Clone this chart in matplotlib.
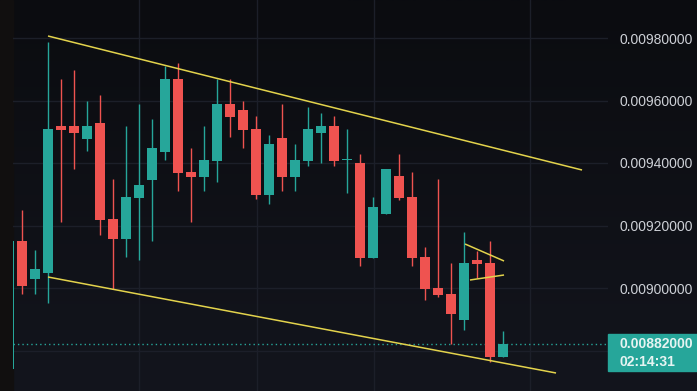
import numpy as np
import matplotlib
matplotlib.use("Agg")
import matplotlib.pyplot as plt
from matplotlib.patches import Rectangle
import matplotlib.transforms as mtransforms

# candle data (price units 1e-6)
opens = [8741, 9150, 9029, 9048, 9518, 9518, 9477, 9528, 9221, 9157,
         9288, 9346, 9435, 9669, 9371, 9355, 9406, 9589, 9570, 9509,
         9298, 9480, 9355, 9406, 9496, 9518, 9410, 9400, 9096, 9237,
         9358, 9291, 9099, 9000, 8981, 8898, 9090, 9080, 8779]
highs = [9150, 9250, 9122, 9787, 9669, 9698, 9598, 9618, 9349, 9518,
         9589, 9541, 9710, 9720, 9448, 9518, 9669, 9669, 9598, 9550,
         9490, 9589, 9461, 9579, 9560, 9550, 9509, 9429, 9291, 9381,
         9429, 9371, 9131, 9349, 9080, 9179, 9118, 9150, 8862]
lows = [8741, 8981, 8981, 8952, 9211, 9381, 9438, 9170, 8997, 9099,
        9090, 9150, 9410, 9310, 9211, 9310, 9339, 9483, 9448, 9285,
        9269, 9310, 9310, 9390, 9400, 9390, 9304, 9070, 9096, 9237,
        9282, 9070, 8962, 8971, 8821, 8866, 9032, 8763, 8779]
closes = [9150, 9006, 9061, 9509, 9506, 9496, 9518, 9218, 9157, 9291,
          9330, 9448, 9669, 9368, 9355, 9410, 9589, 9547, 9506, 9298,
          9461, 9355, 9410, 9509, 9518, 9406, 9410, 9096, 9259, 9381,
          9288, 9096, 8997, 8978, 8917, 9080, 9077, 8779, 8820]

# drawn trendlines: (index, price) pairs
trendlines = [
    ((3.0, 0.0098064), (44.08, 0.0093776)),
    ((3.0, 0.0090352), (42.08, 0.0087280)),
    ((35.08, 0.0091408), (38.08, 0.0090864)),
    ((35.46, 0.0090256), (38.08, 0.0090416)),
]

price_ticks = [0.0090, 0.0092, 0.0094, 0.0096, 0.0098]
grid_levels = [0.0088, 0.0090, 0.0092, 0.0094, 0.0096, 0.0098]
time_grid = [10, 19.08, 28.08, 40.08]
countdown = "02:14:31"

UP = "#26a69a"
DOWN = "#ef5350"
LINE = "#e3d34c"
PX = 3.2e-6  # price per pixel

o = np.array(opens) * 1e-6
h = np.array(highs) * 1e-6
l = np.array(lows) * 1e-6
c = np.array(closes) * 1e-6
x = np.arange(len(o))

W, H = 697, 391
fig = plt.figure(figsize=(W / 100, H / 100), dpi=100)

# background gradient
bg = fig.add_axes([0, 0, 1, 1], zorder=-10)
grad = np.linspace(0, 1, 256).reshape(-1, 1)
top = np.array([11, 12, 16]) / 255
bot = np.array([19, 21, 29]) / 255
img = top[None, None, :] * (1 - grad[:, :, None]) + bot[None, None, :] * grad[:, :, None]
bg.imshow(img, aspect="auto", extent=[0, 1, 0, 1])
bg.set_axis_off()
fig.patches.append(Rectangle((0, 0), 13 / W, 1, transform=fig.transFigure,
                             color="#110f0f", zorder=-5))

ax = fig.add_axes([13 / W, 0, 595 / W, 1])
ax.set_facecolor("none")
ax.set_xlim((13 - 9) / 13, (608 - 9) / 13)
ax.set_ylim(0.0098 - (391 - 38) * PX, 0.0098 + 38 * PX)

for g in grid_levels:
    ax.axhline(g, color="#1c1f29", lw=1, zorder=0)
for t in time_grid:
    ax.axvline(t, color="#1c1f29", lw=1, zorder=0)

colors = [UP if cc >= oo else DOWN for oo, cc in zip(o, c)]
ax.vlines(x, l, h, colors=colors, lw=1, zorder=2)
body = np.maximum(np.abs(c - o), PX)
ax.bar(x, body, bottom=np.minimum(o, c), width=0.7, color=colors, zorder=3,
       linewidth=0)

for (x0, y0), (x1, y1) in trendlines:
    ax.plot([x0, x1], [y0, y1], color=LINE, lw=1.1, zorder=4,
            solid_capstyle="butt")

# last price line
ax.axhline(c[-1], color=UP, lw=1, ls=(0, (1, 2.2)), zorder=1)

ax.yaxis.tick_right()
ax.set_yticks(price_ticks)
ax.set_yticklabels([f"{p:.8f}" for p in price_ticks])
ax.tick_params(axis="y", length=0, pad=8, labelcolor="#cdd0d6",
               labelsize=10)
for lab in ax.get_yticklabels():
    lab.set_fontfamily("Liberation Sans")
ax.set_xticks([])
for s in ax.spines.values():
    s.set_visible(False)

# last price label box
trans = mtransforms.blended_transform_factory(ax.transAxes, ax.transData)
ax.add_patch(Rectangle((1.0, c[-1] - 27 * PX), 0.2, 37 * PX,
                       transform=trans, color=UP, clip_on=False, zorder=5))
ax.text(1 + 11 / 595, c[-1] + 0.3 * PX, f"{c[-1]:.8f}", transform=trans,
        color="#e6f4f2", fontsize=10, fontfamily="Liberation Sans",
        fontweight="bold", va="center", ha="left", zorder=6)
ax.text(1 + 11 / 595, c[-1] - 17.5 * PX, countdown, transform=trans,
        color="#e6f4f2", fontsize=10, fontfamily="Liberation Sans",
        fontweight="bold", va="center", ha="left", zorder=6)

fig.savefig("out.png", dpi=100, facecolor=fig.get_facecolor())
